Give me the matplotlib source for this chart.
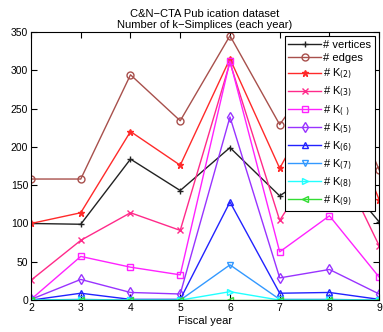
import matplotlib
matplotlib.use("Agg")
import matplotlib.pyplot as plt

plt.rcParams['font.family'] = ['Liberation Sans', 'DejaVu Sans']

years = [2, 3, 4, 5, 6, 7, 8, 9]
vertices = [100, 99, 184, 143, 199, 136, 180, 102]
edges = [158, 158, 294, 234, 345, 229, 320, 170]
k2 = [100, 114, 220, 176, 315, 172, 290, 131]
k3 = [26, 78, 114, 91, 310, 104, 205, 71]
k4 = [1, 57, 43, 33, 312, 63, 110, 30]
k5 = [1, 27, 10, 8, 239, 29, 40, 8]
k6 = [0, 9, 1, 1, 128, 9, 10, 1]
k7 = [0, 1, 0, 0, 46, 1, 1, 0]
k8 = [0, 0, 0, 0, 11, 0, 0, 0]
k9 = [0, 0, 0, 0, 0, 0, 0, 0]

labels = ['# vertices', '# edges', '# K$_{(2)}$', '# K$_{(3)}$', '# K$_{(\\ )}$',
          '# K$_{(5)}$', '# K$_{(6)}$', '# K$_{(7)}$', '# K$_{(8)}$', '# K$_{(9)}$']
series = [vertices, edges, k2, k3, k4, k5, k6, k7, k8, k9]
colors = ['#222222', '#a8504c', '#ff2a2a', '#ff2a8a', '#ff22ff',
          '#9933ff', '#2222ff', '#3399ff', '#22ffff', '#33dd33']
markers = ['+', 'o', '*', 'x', 's', 'd', '^', 'v', '>', '<']

fig = plt.figure(figsize=(3.83, 3.32), dpi=100)
ax = fig.add_axes([0.081, 0.096, 0.909, 0.808])

for vals, lab, c, m in zip(series, labels, colors, markers):
    ax.plot(years, vals, color=c, marker=m, markersize=5, linewidth=1,
            markerfacecolor='none' if m not in ('+', '*', 'x') else c,
            markeredgewidth=1, label=lab)

ax.set_xlim(2, 9)
ax.set_ylim(0, 350)
ax.set_xticks(years)
ax.set_yticks(range(0, 351, 50))
ax.tick_params(direction='in', top=True, right=True, labelsize=7.5, length=4, pad=2)
ax.set_xlabel('Fiscal year', fontsize=8, labelpad=2)
ax.set_title('C&N\u2212CTA Pub ication dataset\nNumber of k\u2212Simplices (each year)',
             fontsize=8, pad=3, linespacing=1.1)

leg = ax.legend(loc='upper right', fontsize=8, frameon=True, fancybox=False,
                framealpha=1, edgecolor='black', borderaxespad=0.4,
                handlelength=3.0, handletextpad=0.2, labelspacing=0.33,
                borderpad=0.3)
leg.get_frame().set_linewidth(0.8)

fig.savefig('out.png', dpi=100)
